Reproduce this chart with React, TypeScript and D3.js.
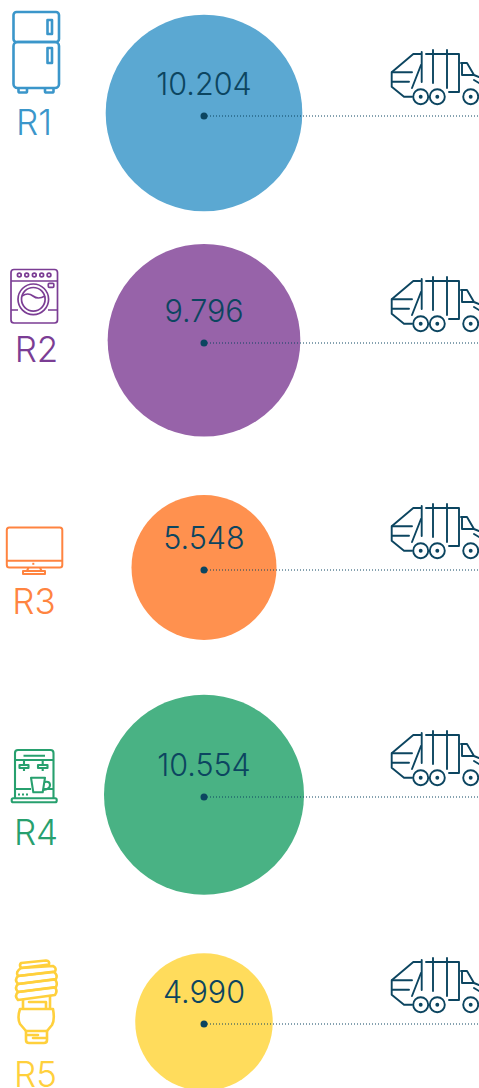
import React from "react";
import * as d3 from "d3";

const categories = ["R1", "R2", "R3", "R4", "R5"];
const values = [10204, 9796, 5548, 10554, 4990];
const valueLabels = ["10.204", "9.796", "5.548", "10.554", "4.990"];
const circleColors = ["#5ba8d2", "#9763a9", "#ff914f", "#49b284", "#ffdc5c"];
const iconColors = ["#3b96ca", "#7b3d94", "#ff8440", "#27a06e", "#ffd03c"];
const labelBaselines = [135, 362, 614, 845, 1087];
const labelCenters = [34, 36.5, 34, 36, 35.5];
const INK = "#0c4560";
const FONT = "Inter, 'Noto Sans', sans-serif";

const yScale = d3.scalePoint<string>().domain(categories).range([113, 1022]);
const dotScale = d3.scalePoint<string>().domain(categories).range([116, 1024]);
const rScale = d3.scaleSqrt().domain([0, 10554]).range([0, 100]);

function Truck({ dy }: { dy: number }) {
  return (
    <g transform={`translate(0,${dy})`} fill="none" stroke={INK} strokeWidth={1.9} strokeLinejoin="round" strokeLinecap="round">
      <path d="M420.5 54H413.3L391.7 72.3V86.7L404 96.7H412" />
      <path d="M392 72.3H412M392 81.7H409M421 65L412 88" />
      <path d="M421.7 52V82M433 50V83M447 50V88" />
      <path d="M426 54H459V92H449" />
      <path d="M461 63H467L474 75H462V64M474 75L479 77M474 80L479 83" />
      <circle cx={420.7} cy={96.7} r={7.5} />
      <circle cx={437.3} cy={96.7} r={7.5} />
      <circle cx={470.7} cy={96.7} r={7.5} />
      <circle cx={420.7} cy={96.7} r={1} fill={INK} />
      <circle cx={437.3} cy={96.7} r={1} fill={INK} />
      <circle cx={470.7} cy={96.7} r={1} fill={INK} />
    </g>
  );
}

function Fridge({ c }: { c: string }) {
  return (
    <g fill="none" stroke={c} strokeWidth={2.6} strokeLinejoin="round">
      <rect x={13.5} y={12} width={45.5} height={30} rx={3} />
      <rect x={13.5} y={42} width={45.5} height={46} rx={4} />
      <rect x={47.5} y={20} width={4.5} height={14} />
      <rect x={47.5} y={48} width={4.5} height={15} />
      <path d="M18.5 89V91.5Q18.5 92.5 20 92.5H25.5Q27 92.5 27 91.5V89M45 89V91.5Q45 92.5 46.5 92.5H52Q53.500 92.5 53.500 91.5V89" />
    </g>
  );
}

function Washer({ c }: { c: string }) {
  return (
    <g fill="none" stroke={c} strokeWidth={1.7}>
      <rect x={11} y={269.5} width={46.5} height={53.5} rx={3} />
      <path d="M11 281H57.500M11 310H18M48 310H57.500" />
      {[19.3, 26.7, 34.3, 41.7, 49].map((x) => (
        <circle key={x} cx={x} cy={275} r={1.9} />
      ))}
      <rect x={48.3} y={283.3} width={5.5} height={4} rx={1} />
      <circle cx={33.3} cy={299.3} r={15.3} />
      <circle cx={33.3} cy={299.3} r={11.8} />
      <path d="M22 296Q28 292 33 296T45 296" />
    </g>
  );
}

function Monitor({ c }: { c: string }) {
  return (
    <g fill="none" stroke={c} strokeWidth={2} strokeLinejoin="round">
      <rect x={6.8} y={527.5} width={55.5} height={40} rx={2.5} />
      <path d="M6.800 560.700H62.300M28.500 567.500L27 571M40 567.500L41.500 571" />
      <rect x={23} y={571} width={22} height={3} />
      <path d="M32.300 563.800H34.300" />
    </g>
  );
}

function Coffee({ c }: { c: string }) {
  return (
    <g fill="none" stroke={c} strokeWidth={2.1} strokeLinejoin="round">
      <path d="M15 798V753Q15 750 18 750H50.500Q53.500 750 53.500 753V798" />
      <path d="M15 760H53.500M23.500 755.700H45" />
      <path d="M19.500 765H28.500V768H19.500ZM38 765H47.500V768H38ZM24 760V765M24 768V771M42.700 760V765M42.700 768V771" />
      <path d="M31 777.700H45L42.700 792.300H33.300ZM45 782Q50 781 50 785T43.500 790" />
      <path d="M15 789H31M44 789H53.500" />
      <rect x={11.700} y={798.300} width={45} height={4} rx={1.500} />
      <path d="M18 794.500H30" strokeDasharray="2 2" />
    </g>
  );
}

function Bulb({ c }: { c: string }) {
  return (
    <g fill="none" stroke={c} strokeWidth={2.6} strokeLinejoin="round" strokeLinecap="round">
      <path d="M21 963L46 960.500Q50 961 49 964.500L21 968Q19 965 21 963Z" />
      <path d="M21 968L53 966Q57 968 55 971.500L18 976Q15 972 21 968Z" />
      <path d="M18 976L54 972Q58 975 56 979L18 984Q14 980 18 976Z" />
      <path d="M18 984L55 979.500Q58 983 56 987L18 992Q14 988 18 984Z" />
      <path d="M18 992L55 987.500Q58 991 55 995L18 1000Q14 996 18 992Z" />
      <path d="M23 1000V1008M29 1002H46V1008M50 996V1008" />
      <path d="M20 1009H53Q55 1020 52 1025L47 1031H26L20 1024Q17 1018 20 1009Z" />
      <path d="M26 1031V1040Q26 1043 29 1043H44Q47 1043 47 1040V1031M26 1035H38M33 1038H47" />
    </g>
  );
}

const icons = [Fridge, Washer, Monitor, Coffee, Bulb];

export default function App() {
  return (
    <svg
      width={479}
      height={1088}
      viewBox="0 0 479 1088"
      style={{ position: "absolute", left: 0, top: 0, background: "#fff" }}
    >
      {categories.map((cat, i) => {
        const cy = yScale(cat)!;
        const dotY = dotScale(cat)!;
        const Icon = icons[i];
        return (
          <g key={cat}>
            <Icon c={iconColors[i]} />
            <text
              x={labelCenters[i]}
              y={labelBaselines[i]}
              textAnchor="middle"
              fontFamily={FONT}
              fontWeight={300}
              fontSize={35}
              fill={iconColors[i]}
            >
              {cat}
            </text>
            <circle cx={204} cy={cy} r={rScale(values[i])} fill={circleColors[i]} />
            <text
              x={204}
              y={dotY - 21}
              textAnchor="middle"
              fontFamily={FONT}
              fontWeight={300}
              fontSize={30.5}
              fill={INK}
            >
              {valueLabels[i]}
            </text>
            <line x1={204} x2={479} y1={dotY} y2={dotY} stroke={INK} strokeWidth={1} strokeDasharray="1 2" />
            <circle cx={204} cy={dotY} r={3.5} fill={INK} />
            <Truck dy={dotY - 116} />
          </g>
        );
      })}
    </svg>
  );
}
